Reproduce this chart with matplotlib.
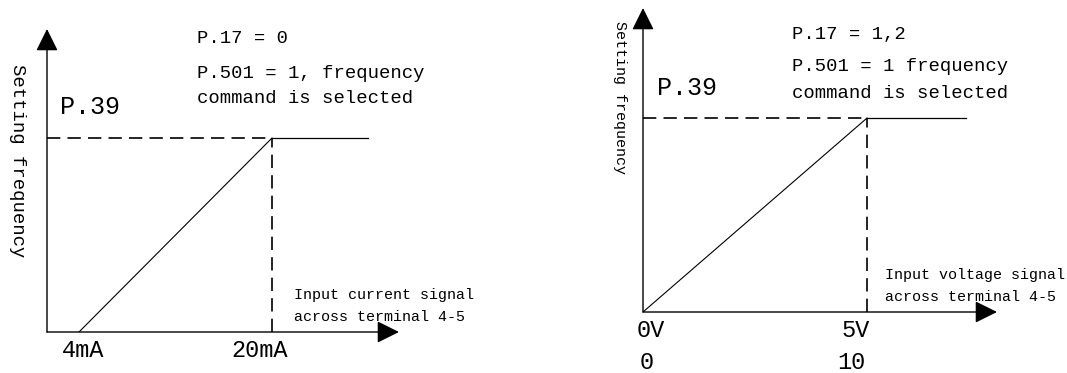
import matplotlib
matplotlib.use("Agg")
import matplotlib.pyplot as plt

# left diagram: current input (mA)
i_points = [4, 20]
i_labels = ["4mA", "20mA"]
i_end = 28
# right diagram: voltage input (V)
v_points = [0, 5]
v_labels = ["0V", "5V"]
v_digital = ["0", "10"]
v_end = 7.2
# normalised frequency: 0 .. P.39
f_points = [0, 1]

left_note = ["P.17 = 0", "P.501 = 1, frequency", "command is selected"]
right_note = ["P.17 = 1,2", "P.501 = 1 frequency", "command is selected"]

FONT = "Liberation Mono"
W, H = 1067, 373

fig = plt.figure(figsize=(W / 100, H / 100), dpi=100)

def make_axes(x0, y0, x1, y1, xlim, ylim):
    # x0,y0 = origin pixel, x1,y1 = arrow tips
    ax = fig.add_axes([x0 / W, 1 - y0 / H, (x1 - x0) / W, (y0 - y1) / H])
    ax.set_xlim(*xlim)
    ax.set_ylim(*ylim)
    ax.axis("off")
    arrow = dict(arrowstyle="-|>,head_length=1.37,head_width=0.68", mutation_scale=10,
                 lw=1.0, color="k", shrinkA=0, shrinkB=0)
    ax.annotate("", xy=(1, 0), xytext=(0, 0), xycoords="axes fraction", arrowprops=arrow)
    ax.annotate("", xy=(0, 1), xytext=(0, 0), xycoords="axes fraction", arrowprops=arrow)
    return ax

dash = (0, (8, 4.3))

# ---- left ----
ax1 = make_axes(47, 332, 399, 29, (1.347, 30.53), (0, 1.562))
x_lo = ax1.get_xlim()[0]
ax1.plot(i_points, f_points, color="k", lw=0.8)
ax1.plot([x_lo, i_points[1]], [f_points[1]] * 2, color="k", lw=1.2, ls=dash)
ax1.plot([i_points[1]] * 2, f_points, color="k", lw=1.2, ls=dash)
ax1.plot([i_points[1], i_end], [f_points[1]] * 2, color="k", lw=0.9)

ax1.text(i_points[0] + 0.33, -0.093, i_labels[0], fontsize=17, family=FONT, ha="center", va="center")
ax1.text(i_points[1] - 1.0, -0.093, i_labels[1], fontsize=17, family=FONT, ha="center", va="center")
ax1.text(2.42, 1.16, "P.39", fontsize=18, family=FONT, ha="left", va="center")
for txt, y in zip(left_note, [1.515, 1.335, 1.206]):
    ax1.text(13.78, y, txt, fontsize=13.6, family=FONT, ha="left", va="center")
ax1.text(21.83, 0.191, "Input current signal", fontsize=10.8, family=FONT, ha="left", va="center")
ax1.text(21.83, 0.077, "across terminal 4-5", fontsize=10.8, family=FONT, ha="left", va="center")
ax1.text(-1.06, 0.881, "Setting frequency", fontsize=13.6, family=FONT, rotation=-90,
         ha="center", va="center")

# ---- right ----
ax2 = make_axes(643, 312, 997, 8, (0, 7.9), (0, 1.567))
ax2.plot(v_points, f_points, color="k", lw=0.8)
ax2.plot([0, v_points[1]], [f_points[1]] * 2, color="k", lw=1.2, ls=dash)
ax2.plot([v_points[1]] * 2, f_points, color="k", lw=1.2, ls=dash)
ax2.plot([v_points[1], v_end], [f_points[1]] * 2, color="k", lw=0.9)

for x, lab, dig, dx in zip(v_points, v_labels, v_digital, [0.18, -0.25]):
    ax2.text(x + dx, -0.093, lab, fontsize=17, family=FONT, ha="center", va="center")
    ax2.text(x + dx - 0.09, -0.258, dig, fontsize=17, family=FONT, ha="center", va="center")
ax2.text(0.31, 1.155, "P.39", fontsize=18, family=FONT, ha="left", va="center")
for txt, y in zip(right_note, [1.428, 1.263, 1.124]):
    ax2.text(3.33, y, txt, fontsize=13.6, family=FONT, ha="left", va="center")
ax2.text(5.40, 0.191, "Input voltage signal", fontsize=10.8, family=FONT, ha="left", va="center")
ax2.text(5.40, 0.077, "across terminal 4-5", fontsize=10.8, family=FONT, ha="left", va="center")
ax2.text(-0.51, 1.108, "Setting frequency", fontsize=10.8, family=FONT, rotation=-90,
         ha="center", va="center")

fig.savefig("out.png", dpi=100)
